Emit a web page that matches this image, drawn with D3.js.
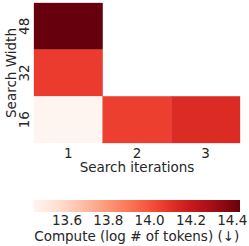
<!DOCTYPE html>
<html>
<head>
<meta charset="utf-8">
<script src="https://cdn.jsdelivr.net/npm/d3@7"></script>
<style>
  body { margin: 0; background: #fff; }
  text { font-family: "DejaVu Sans", sans-serif; fill: #262626; }
</style>
</head>
<body>
<div id="chart"></div>
<script>
// data
const iterations = ["1", "2", "3"];
const widths = ["48", "32", "16"];          // top to bottom
const cells = [
  {iter: "1", width: "48", value: 14.44},
  {iter: "1", width: "32", value: 14.07},
  {iter: "1", width: "16", value: 13.44},
  {iter: "2", width: "16", value: 14.06},
  {iter: "3", width: "16", value: 14.13}
];
const colorDomain = [13.44, 14.44];
const colorTicks = [13.6, 13.8, 14.0, 14.2, 14.4];
// matplotlib "Reds" stops
const redsStops = ["#fff5f0", "#fee0d2", "#fcbba1", "#fc9272", "#fb6a4a", "#ef3b2c", "#cb181d", "#a50f15", "#67000d"];

const width = 249, height = 246;
const fontSize = "13.5px";
const svg = d3.select("#chart").append("svg")
  .attr("width", width)
  .attr("height", height);

const reds = d3.interpolateRgbBasis(redsStops);
const color = d3.scaleSequential(reds).domain(colorDomain);

// heatmap scales
const x = d3.scaleBand().domain(iterations).range([34, 240]);
const y = d3.scaleBand().domain(widths).range([3, 143]);

svg.selectAll("rect.cell")
  .data(cells)
  .enter()
  .append("rect")
    .attr("class", "cell")
    .attr("x", d => x(d.iter))
    .attr("y", d => y(d.width))
    .attr("width", x.bandwidth())
    .attr("height", y.bandwidth())
    .attr("fill", d => color(d.value))
    .attr("stroke", d => color(d.value))
    .attr("stroke-width", 0.3);

// x axis labels
const xAxis = svg.append("g")
  .attr("transform", "translate(0,143)")
  .call(d3.axisBottom(x).tickSize(0).tickPadding(5));
xAxis.select(".domain").remove();
xAxis.selectAll("text").style("font-size", fontSize).attr("fill", "#262626");

svg.append("text")
  .attr("x", (34 + 240) / 2)
  .attr("y", 172)
  .attr("text-anchor", "middle")
  .style("font-size", fontSize)
  .text("Search iterations");

// y axis labels (rotated)
const yAxis = svg.append("g")
  .attr("transform", "translate(34,0)")
  .call(d3.axisLeft(y).tickSize(0).tickPadding(0));
yAxis.select(".domain").remove();
yAxis.selectAll("text")
  .style("font-size", fontSize)
  .attr("fill", "#262626")
  .attr("x", null).attr("dy", null)
  .attr("text-anchor", "middle")
  .attr("transform", "translate(-5.5,0) rotate(-90)");

svg.append("text")
  .attr("transform", `translate(15.5,${(3 + 143) / 2}) rotate(-90)`)
  .attr("text-anchor", "middle")
  .style("font-size", fontSize)
  .text("Search Width");

// colorbar
const cbX = d3.scaleLinear().domain(colorDomain).range([33.5, 240]);
const grad = svg.append("defs").append("linearGradient")
  .attr("id", "cbgrad");
d3.range(0, 1.0001, 0.05).forEach(t => {
  grad.append("stop")
    .attr("offset", t)
    .attr("stop-color", reds(t));
});
svg.append("rect")
  .attr("x", cbX(colorDomain[0]))
  .attr("y", 200)
  .attr("width", cbX(colorDomain[1]) - cbX(colorDomain[0]))
  .attr("height", 12)
  .attr("fill", "url(#cbgrad)");

const cbAxis = svg.append("g")
  .attr("transform", "translate(0,212)")
  .call(d3.axisBottom(cbX).tickValues(colorTicks).tickFormat(d3.format(".1f")).tickSize(0).tickPadding(3));
cbAxis.select(".domain").remove();
cbAxis.selectAll("text").style("font-size", fontSize).attr("fill", "#262626");

svg.append("text")
  .attr("x", (33.5 + 240) / 2)
  .attr("y", 240.5)
  .attr("text-anchor", "middle")
  .style("font-size", fontSize)
  .text("Compute (log # of tokens) (↓)");
</script>
</body>
</html>
